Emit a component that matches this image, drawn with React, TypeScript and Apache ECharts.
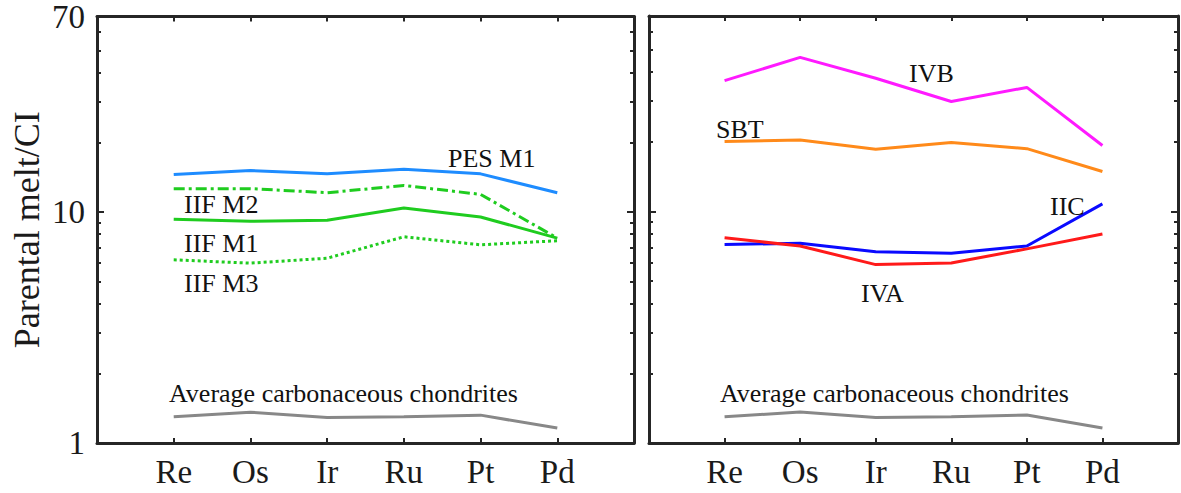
import React, { useEffect, useRef } from "react";
import * as echarts from "echarts";

const elements = ["", "Re", "Os", "Ir", "Ru", "Pt", "Pd", ""];
const yMinorTicks = [1, 2, 3, 4, 5, 6, 7, 8, 9, 10, 20, 30, 40, 50, 60, 70];
const yMajorTicks = [10];
const yLabels = [1, 10, 70];

const pesM1 = [14.5, 15.1, 14.6, 15.3, 14.6, 12.1];
const iifM2 = [12.6, 12.6, 12.1, 13.0, 11.9, 7.7];
const iifM1 = [9.3, 9.1, 9.2, 10.4, 9.5, 7.7];
const iifM3 = [6.2, 6.0, 6.3, 7.8, 7.2, 7.5];
const chondrites = [1.3, 1.36, 1.29, 1.3, 1.32, 1.16];
const ivb = [36.8, 46.4, 37.7, 29.9, 34.4, 19.3];
const sbt = [20.1, 20.4, 18.6, 19.9, 18.7, 14.9];
const iic = [7.2, 7.3, 6.7, 6.6, 7.1, 10.8];
const iva = [7.7, 7.1, 5.9, 6.0, 6.9, 8.0];

const FONT = '"Liberation Serif", "Times New Roman", serif';
const INK = "#262626";

const pad = (a: number[]) => [null, ...a, null];

export default function App() {
  const ref = useRef<HTMLDivElement>(null);
  useEffect(() => {
    if (!ref.current) return;
    const chart = echarts.init(ref.current, undefined, { renderer: "svg" });

    const xAxes: any[] = [];
    const yAxes: any[] = [];
    [0, 1].forEach((g) => {
      ["bottom", "top"].forEach((pos) => {
        xAxes.push({
          type: "category",
          gridIndex: g,
          position: pos,
          data: elements,
          boundaryGap: false,
          axisLine: { show: true, onZero: false, lineStyle: { color: INK, width: 3 } },
          axisTick: { show: true, inside: true, length: 5, lineStyle: { color: INK, width: 2 } },
          axisLabel: {
            show: pos === "bottom",
            interval: 0,
            margin: 12,
            fontFamily: FONT,
            fontSize: 33,
            color: "#1a1a1a",
          },
          splitLine: { show: false },
        });
      });
      ["left", "right"].forEach((pos) => {
        const common = {
          type: "log",
          logBase: 10,
          gridIndex: g,
          position: pos,
          min: 1,
          max: 70,
          splitLine: { show: false },
          minorTick: { show: false },
        };
        yAxes.push({
          ...common,
          axisLine: { show: true, lineStyle: { color: INK, width: 3 } },
          axisTick: {
            show: true,
            inside: true,
            length: 4,
            customValues: yMinorTicks,
            lineStyle: { color: INK, width: 2 },
          },
          axisLabel: {
            show: g === 0 && pos === "left",
            customValues: yLabels,
            margin: 12,
            fontFamily: FONT,
            fontSize: 33,
            color: "#1a1a1a",
          },
          name: g === 0 && pos === "left" ? "Parental melt/CI" : "",
          nameLocation: "middle",
          nameRotate: 90,
          nameGap: 52,
          nameTextStyle: { fontFamily: FONT, fontSize: 36, color: "#1a1a1a" },
        });
        yAxes.push({
          ...common,
          axisLine: { show: false },
          axisTick: {
            show: true,
            inside: true,
            length: 7,
            customValues: yMajorTicks,
            lineStyle: { color: INK, width: 2 },
          },
          axisLabel: { show: false },
        });
      });
    });

    const mk = (name: string, data: number[], color: string, g: number, type: any = "solid") => ({
      name,
      type: "line",
      xAxisIndex: g * 2,
      yAxisIndex: g * 4,
      data: pad(data),
      showSymbol: false,
      symbol: "none",
      connectNulls: false,
      lineStyle: { color, width: 3, type, cap: "butt" },
      z: 3,
    });

    const series = [
      mk("PES M1", pesM1, "#1e8cff", 0),
      mk("IIF M2", iifM2, "#1fcc1f", 0, [11, 4, 3, 4]),
      mk("IIF M1", iifM1, "#1fcc1f", 0),
      mk("IIF M3", iifM3, "#1fcc1f", 0, [3, 3]),
      mk("Average carbonaceous chondrites", chondrites, "#888888", 0),
      mk("IVB", ivb, "#ff1aff", 1),
      mk("SBT", sbt, "#ff8a1a", 1),
      mk("IIC", iic, "#0a0aff", 1),
      mk("IVA", iva, "#ff1a1a", 1),
      mk("Average carbonaceous chondrites", chondrites, "#888888", 1),
    ];

    const t = (text: string, x: number, y: number) => ({
      type: "text",
      x,
      y,
      z: 10,
      style: {
        text,
        fontFamily: FONT,
        fontSize: 26,
        fill: "#111111",
        verticalAlign: "middle",
        align: "left",
      },
    });

    chart.setOption({
      animation: false,
      backgroundColor: "#ffffff",
      grid: [
        { left: 97, top: 16, width: 537, height: 427 },
        { left: 649, top: 16, width: 538, height: 427 },
      ],
      xAxis: xAxes,
      yAxis: yAxes,
      series,
      graphic: [
        t("PES M1", 448, 158),
        t("IIF M2", 184, 204),
        t("IIF M1", 184, 243),
        t("IIF M3", 184, 283),
        t("Average carbonaceous chondrites", 169, 393),
        t("IVB", 909, 73),
        t("SBT", 716, 129),
        t("IIC", 1050, 206),
        t("IVA", 861, 293),
        t("Average carbonaceous chondrites", 720, 393),
      ],
    });
    return () => chart.dispose();
  }, []);
  return (
    <div
      ref={ref}
      style={{ position: "absolute", left: 0, top: 0, width: 1181, height: 493 }}
    />
  );
}
